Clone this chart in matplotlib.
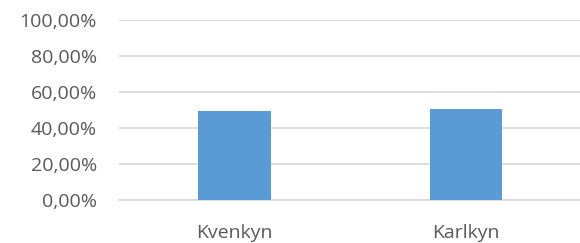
import matplotlib
matplotlib.use('Agg')
import matplotlib.pyplot as plt
import numpy as np
from matplotlib.ticker import FuncFormatter

categories = ['Kvenkyn', 'Karlkyn']
shares = [49.5, 50.5]
yticks = [0, 20, 40, 60, 80, 100]

plt.rcParams['font.family'] = ['Open Sans', 'DejaVu Sans']

fig = plt.figure(figsize=(5.8, 2.43), dpi=100)
ax = fig.add_axes([119/580, 43/243, 1 - 119/580 + 0.003, 180/243])

x = np.arange(len(categories))
ax.bar(x, shares, width=0.315, color='#5B9BD5', zorder=3)

ax.set_xlim(-0.5, 1.5)
ax.set_ylim(0, 100)
ax.set_yticks(yticks)
ax.yaxis.set_major_formatter(FuncFormatter(lambda v, p: f'{v:.2f}'.replace('.', ',') + '%'))
ax.set_xticks(x)
ax.set_xticklabels(categories)

ax.grid(axis='y', color='#D9D9D9', linewidth=1.2, zorder=0)
for s in ['top', 'right', 'left']:
    ax.spines[s].set_visible(False)
ax.spines['bottom'].set_color('#D9D9D9')
ax.spines['bottom'].set_linewidth(1.2)

ax.tick_params(axis='both', length=0, labelsize=14, labelcolor='#595959')
ax.tick_params(axis='y', pad=16)
ax.tick_params(axis='x', pad=17)

fig.savefig('out.png', dpi=100)
